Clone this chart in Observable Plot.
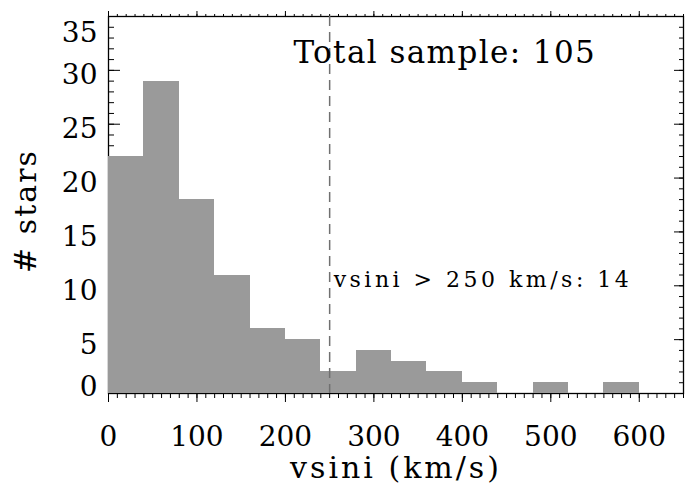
<!DOCTYPE html>
<html><head><meta charset="utf-8">
<script src="https://cdn.jsdelivr.net/npm/d3@7"></script>
<script src="https://cdn.jsdelivr.net/npm/@observablehq/plot@0.6"></script>
<style>
body{margin:0;background:#fff;}
#chart svg{font-family:"DejaVu Serif",serif;}
.title-x text{letter-spacing:3px;}
.title-y text{letter-spacing:2px;}
.annot-total text{letter-spacing:1.4px;}
.annot-cut text{letter-spacing:3.5px;}
</style></head><body><div id="chart"></div>
<script>
// Histogram of vsini (bin edges in km/s) and star counts
const binEdges = [0,40,80,120,160,200,240,280,320,360,400,440,480,520,560,600];
const counts   = [22,29,18,11,6,5,2,4,3,2,1,0,1,0,1];
const xMajorTicks = [0,100,200,300,400,500,600];
const yMajorTicks = [0,5,10,15,20,25,30,35];
const cutoffValue = [250];
const annotTexts = ["Total sample: 105", "vsini > 250 km/s: 14"];
const annotX = [209, 254.5];
const annotY = [30.7, 9.85];
const xTitle = "vsini (km/s)";
const yTitle = "# stars";

const xDomain = [0, 650];
const yDomain = [0, 35];
const xMinorTicks = d3.range(xDomain[0], xDomain[1] + 1, 10);
const yMinorTicks = d3.range(yDomain[0], yDomain[1] + 1, 1);

const bars = counts.map((c, i) => ({x1: binEdges[i], x2: binEdges[i + 1], count: c}));
const annots = annotTexts.map((t, i) => ({text: t, x: annotX[i], y: annotY[i]}));

// y tick label vertical shifts (IDL keeps end labels inside the box)
const yShift = v => v === yDomain[0] ? -6 : v === yDomain[1] ? 17 : 5;
const shiftGroups = d3.groups(yMajorTicks, yShift);

const font = "DejaVu Serif";
const chart = Plot.plot({
  width: 685, height: 488,
  marginLeft: 108, marginRight: 2, marginTop: 16, marginBottom: 95,
  x: {domain: xDomain, axis: null, label: null},
  y: {domain: yDomain, axis: null, label: null},
  style: {fontFamily: font, background: "white", color: "black"},
  marks: [
    Plot.frame({stroke: "black", strokeWidth: 1.3}),
    // bottom ticks (outward)
    Plot.axisX(xMinorTicks, {anchor: "bottom", tickSize: 5, fill: "none", label: null}),
    Plot.axisX(xMajorTicks, {anchor: "bottom", tickSize: 9, fill: "none", label: null}),
    // top ticks (outward)
    Plot.axisX(xMinorTicks, {anchor: "top", tickSize: 3, fill: "none", label: null}),
    Plot.axisX(xMajorTicks, {anchor: "top", tickSize: 6, fill: "none", label: null}),
    // left / right ticks (inward)
    Plot.axisY(yMinorTicks, {anchor: "left", tickSize: -6, fill: "none", label: null}),
    Plot.axisY(yMajorTicks, {anchor: "left", tickSize: -12, fill: "none", label: null}),
    Plot.axisY(yMinorTicks, {anchor: "right", tickSize: -5, fill: "none", label: null}),
    Plot.axisY(yMajorTicks, {anchor: "right", tickSize: -10, fill: "none", label: null}),
    // histogram bars
    Plot.rectY(bars, {x1: "x1", x2: "x2", y: "count", fill: "#9a9a9a", shapeRendering: "crispEdges"}),
    // cutoff line
    Plot.ruleX(cutoffValue, {stroke: "#707070", strokeWidth: 1.5, strokeDasharray: "10,6"}),
    // x tick labels
    Plot.text(xMajorTicks, {x: d => d, frameAnchor: "bottom", lineAnchor: "bottom", dy: 52,
      text: d => String(d), fontSize: 28, fill: "black"}),
    // y tick labels
    ...shiftGroups.map(([shift, vals]) => Plot.text(vals, {y: d => d, frameAnchor: "left",
      textAnchor: "end", lineAnchor: "middle", dx: -11, dy: shift, text: d => String(d),
      fontSize: 28, fill: "black"})),
    // axis titles
    Plot.text([xTitle], {frameAnchor: "bottom", lineAnchor: "bottom", dy: 84, fontSize: 30,
      fill: "black", className: "title-x"}),
    Plot.text([yTitle], {frameAnchor: "left", textAnchor: "middle", lineAnchor: "bottom",
      rotate: -90, dx: -73, dy: 6, fontSize: 30, fill: "black", className: "title-y"}),
    // annotations
    Plot.text(annots.slice(0, 1), {x: "x", y: "y", text: "text", textAnchor: "start",
      lineAnchor: "bottom", fontSize: 31, fill: "black", className: "annot-total"}),
    Plot.text(annots.slice(1), {x: "x", y: "y", text: "text", textAnchor: "start",
      lineAnchor: "bottom", fontSize: 22, fill: "black", className: "annot-cut"})
  ]
});
document.getElementById("chart").appendChild(chart);
</script></body></html>
